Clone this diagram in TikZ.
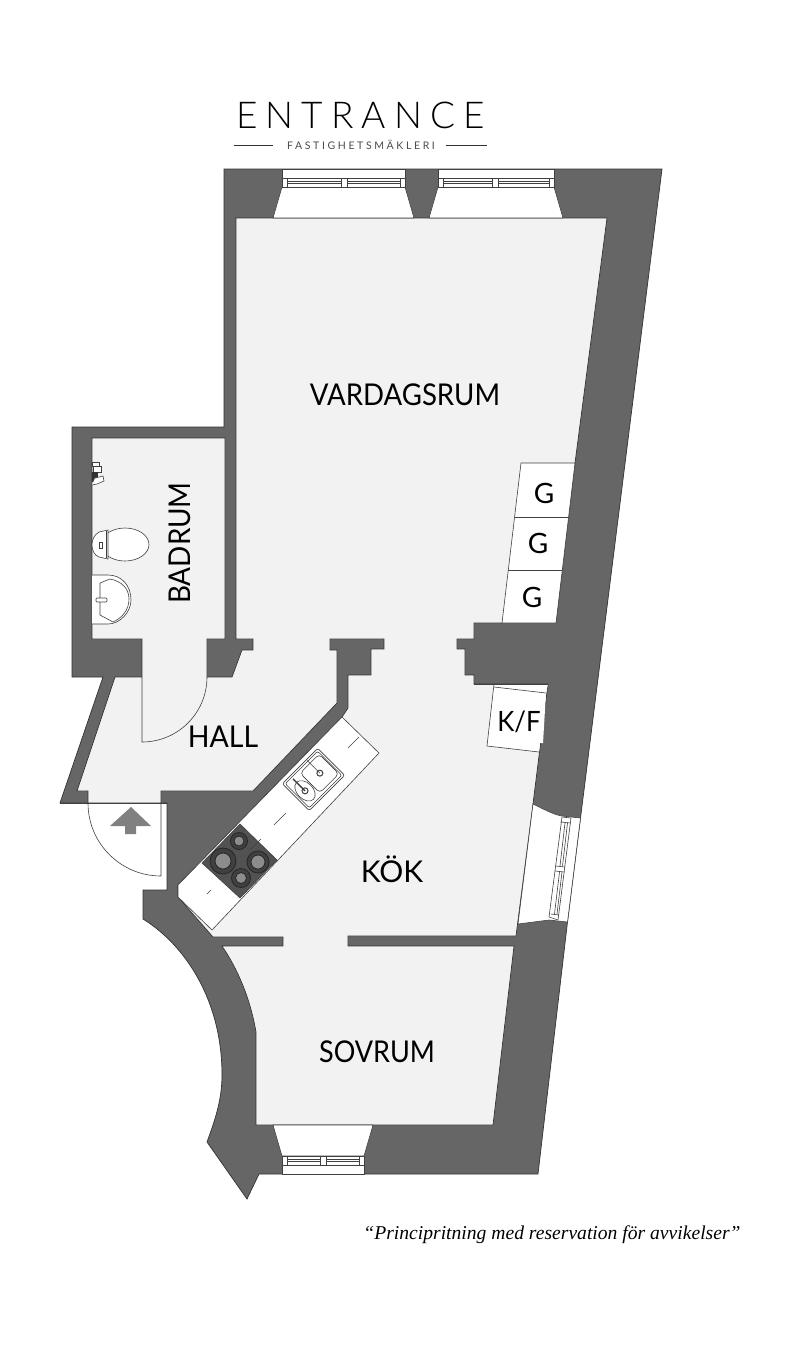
\documentclass[tikz,border=0pt]{standalone}
\usepackage{fontspec}
\setmainfont{Lato}
\newfontfamily\logofont[LetterSpace=22]{Lato Light}
\newfontfamily\sousfont[LetterSpace=25]{Lato}
\newfontfamily\notefont{Liberation Serif}
\usepackage{tikz}
\begin{document}
\begin{tikzpicture}[x=1pt,y=-1pt]
\tikzset{mur/.style={draw=black!80, fill=black!60, line width=0.7pt},
  sol/.style={draw=black!80, fill=black!5, line width=0.7pt},
  meuble/.style={draw=black!75, fill=white, line width=0.6pt},
  trait/.style={draw=black!75, line width=0.6pt},
  piece/.style={font=\fontsize{30}{30}\selectfont, inner sep=0pt},
  placard/.style={font=\fontsize{28}{28}\selectfont, inner sep=0pt},
  plaque/.style={draw=black!85, fill=black!75, line width=0.8pt},
  foyer/.style={draw=black!85, fill=black!45, line width=0.8pt}}
\useasboundingbox (0,0) rectangle (800,1350);
\fill[white] (0,0) rectangle (800,1350);
\node[inner sep=0pt] (logo) at (360.5,115) {\logofont\fontsize{37}{37}\selectfont ENTRANCE};
\node[inner sep=0pt] (firma) at (361,145) {\sousfont\color{black!70}\fontsize{10.5}{11}\selectfont FASTIGHETSMÄKLERI};
\draw[black!80, line width=0.8pt] (234,145) -- (273,145);
\draw[black!80, line width=0.8pt] (446,145) -- (487,145);
\draw[mur] (224,169) -- (224,427) -- (72,427) -- (72,677) -- (103,677) -- (60,803) -- (167,803) -- (167,890) -- (143,890) -- (143,919)
  .. controls (185,945) and (222,1000) .. (222,1075) .. controls (222,1100) and (215,1120) .. (207,1142)
  -- (247,1199) -- (259,1174) -- (538,1174) -- (567.5,922) -- (580.5,818) -- (662,169) -- cycle;
\draw[sol] (236,218) -- (607,218) -- (575,463) -- (556,623) -- (474,623) -- (474,639) -- (457,639) -- (457,649) -- (465,649) -- (465,675) -- (474,675) -- (474,684) -- (548,684) -- (533,804) -- (516,936) -- (348,936) -- (348,946) -- (514,946) -- (493,1125) -- (256,1125) -- (256,1032)
  .. controls (250,997) and (237,968) .. (222,946)
  -- (283,946) -- (283,937) -- (213,937) -- (178,897) -- (178,885) -- (342,717) -- (348,708) -- (348,675) -- (371,675) -- (371,649) -- (384,649) -- (384,639) -- (330,639) -- (330,650) -- (337,650) -- (337,703) -- (253,791) -- (161,791) -- (161,803) -- (88,803) -- (88,791) -- (77,791) -- (115,677) -- (142,677) -- (142,639) -- (92,639) -- (92,438) -- (225,438) -- (225,639) -- (207,639) -- (207,677) -- (232,677) -- (242,650) -- (253,650) -- (253,639) -- (236,639) -- cycle;
\draw[meuble] (282,187) -- (273,218) -- (414,218) -- (405,187) -- cycle;
\draw[meuble] (438,187) -- (429,218) -- (563,218) -- (554,187) -- cycle;
\draw[meuble] (282,1156) -- (273,1125) -- (373,1125) -- (364,1156) -- cycle;
\foreach \xa/\xb/\xc/\ya/\yb/\yc/\yd in {282/405/344/169/187/178/187, 438/554/495.5/169/187/178/187, 282/364/323.5/1156/1174/1156/1165}{
  \draw[meuble] (\xa,\ya) rectangle (\xb,\yb);
  \draw[meuble] (\xa,\yc) rectangle (\xb,\yd);
  \draw[trait] (\xa+5,\yc) -- (\xa+5,\yd);
  \draw[trait] (\xb-5,\yc) -- (\xb-5,\yd);
  \draw[trait] (\xc-3,\yc) -- (\xc-3,\yd);
  \draw[trait] (\xc+3,\yc) -- (\xc+3,\yd);
  \draw[trait] (\xa+5,\yc+3) -- (\xc-3,\yc+3);
  \draw[trait] (\xa+5,\yc+5.5) -- (\xc-3,\yc+5.5);
  \draw[trait] (\xc+3,\yc+3) -- (\xb-5,\yc+3);
  \draw[trait] (\xc+3,\yc+5.5) -- (\xb-5,\yc+5.5);
}
\draw[meuble] (533,804) .. controls (545,810) and (555,815) .. (562,816) -- (580.5,818) -- (567.5,922) -- (549,920) -- (518,924) -- cycle;
\draw[meuble] (562,817) -- (571,818) -- (558,920) -- (549,917) -- cycle;
\draw[trait] (560.5,822) -- (570.5,823);
\draw[trait] (551,914) -- (559,915);
\draw[trait] (555.5,866) -- (565,867);
\draw[trait] (555,871) -- (564.5,872);
\draw[trait] (565,823) -- (560,866);
\draw[trait] (567.5,823) -- (562.5,866);
\draw[trait] (559.5,872) -- (554.5,914);
\draw[trait] (562,872) -- (557,914);
\draw[meuble] (521,463) -- (575,463) -- (556,623) -- (502,623) -- cycle;
\draw[trait] (515,517) -- (568,517);
\draw[trait] (508,570) -- (562,570);
\fill[white] (494,684) -- (548,684) -- (546,693) -- (543,743) -- (540,743) -- (539,752) -- (487,746) -- cycle;
\draw[trait] (494,684) -- (487,746) -- (539,752);
\draw[trait] (494,687) -- (546,693);
\draw[trait] (474,684) -- (548,684);
\draw[meuble] (178,885) -- (342,717) -- (379,753) -- (212,930) -- (178,897) -- cycle;
\draw[meuble, fill=black!68] (240,824) -- (277,860) -- (240,898) -- (202,863) -- cycle;
\foreach \cx/\cy/\ra/\rb in {223/861/13/8, 239/841/8.5/5, 258/862/11/7, 241/878/9.5/5.5}{
  \draw[plaque] (\cx,\cy) circle[radius=\ra pt];
  \draw[foyer] (\cx,\cy) circle[radius=\rb pt];
}
\draw[trait] (348,748) -- (359,737);
\draw[trait] (274,825) -- (286,813);
\draw[trait] (250,850) -- (261,839);
\draw[trait] (225,875) -- (233,867);
\draw[trait] (207,894) -- (211,890);
\begin{scope}[shift={(313.5,779.5)}, rotate=45]
\draw[meuble, rounded corners=2pt] (-25,-19) rectangle (25,19);
\draw[trait, rounded corners=2pt] (-23,-17) rectangle (23,17);
\draw[trait, rounded corners=4pt] (-5,-14) rectangle (22,14);
\draw[trait] (-14,2) ellipse[x radius=8pt, y radius=12pt];
\draw[meuble, line width=1pt] (9,0) circle[radius=3pt];
\draw[meuble, line width=1pt] (-14,2) circle[radius=3pt];
\draw[trait] (9,0) -- (9,-18);
\draw[trait, line width=1.4pt] (-14,2) -- (-14,-15);
\end{scope}
\draw[meuble] (92,575) -- (108,575) .. controls (122,575) and (131,586) .. (131,600) .. controls (131,612) and (120,624) .. (108,624) -- (92,624);
\draw[trait] (100,583) -- (110,579) .. controls (121,581) and (129,588) .. (129,599) .. controls (129,610) and (122,618) .. (113,622) -- (100,615) -- cycle;
\draw[meuble, rounded corners=1pt] (96,598) rectangle (107,602);
\draw[meuble] (125,544.5) ellipse[x radius=24pt, y radius=16.5pt];
\draw[meuble] (108,530) -- (99,532) .. controls (94,535) and (92,540) .. (92,545) .. controls (92,550) and (94,555) .. (99,557) -- (108,559) -- cycle;
\draw[trait] (106,531) -- (106,558);
\draw[trait] (99,542) rectangle (102,548);
\draw[meuble] (92,462) rectangle (99,466);
\draw[meuble] (93,466) rectangle (101,472);
\fill[black!80] (92,472) rectangle (98,482);
\draw[meuble] (95,478) -- (103,476) -- (104,481) -- (97,484) -- (92,485);
\draw[trait] (142,677) -- (142,742) arc[start angle=270, end angle=360, radius=65pt];
\draw[trait] (161,803) -- (161,876) arc[start angle=270, end angle=180, radius=73pt];
\draw[trait] (60,803) -- (167,803);
\fill[black!50] (131,807) -- (151,826) -- (136,826) -- (136,834) -- (125,834) -- (125,826) -- (110,826) -- cycle;
\node[piece, xscale=0.92] (vardagsrum) at (405,395) {VARDAGSRUM};
\node[piece, rotate=90, xscale=0.93] (badrum) at (180,543) {BADRUM};
\node[piece, xscale=0.95] (hall) at (223,737) {HALL};
\node[piece] (kok) at (392,869) {KÖK};
\node[piece, xscale=0.9] (sovrum) at (377,1052) {SOVRUM};
\node[placard] (G1) at (544,493) {G};
\node[placard] (G2) at (538,543) {G};
\node[placard] (G3) at (532,597) {G};
\node[placard, xscale=0.92] (KF) at (519,722) {K/F};
\node[inner sep=0pt] (note) at (552,1235) {\notefont\itshape\fontsize{19.6}{20}\selectfont “Principritning med reservation för avvikelser”};
\end{tikzpicture}
\end{document}
